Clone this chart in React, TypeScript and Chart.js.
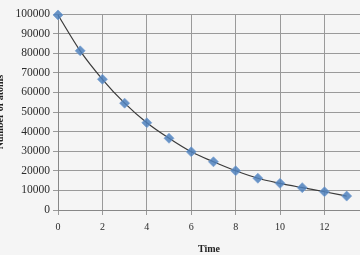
import React, { useEffect, useRef } from "react";
import { Chart, registerables } from "chart.js";

Chart.register(...registerables);

const times = [0, 1, 2, 3, 4, 5, 6, 7, 8, 9, 10, 11, 12, 13];
const atoms = [99500, 81200, 66700, 54500, 44500, 36600, 29700, 24600, 20000, 16200, 13600, 11400, 9300, 7100];
const xTicks = [0, 2, 4, 6, 8, 10, 12];
const yTickStep = 10000;
const xTitle = "Time";
const yTitle = "Number of atoms";

export default function App() {
  const ref = useRef<HTMLCanvasElement | null>(null);
  useEffect(() => {
    document.body.style.margin = "0";
    document.body.style.background = "#f5f5f5";
    const ctx = ref.current!.getContext("2d")!;
    const chart = new Chart(ctx, {
      type: "line",
      data: {
        datasets: [
          {
            data: times.map((t, i) => ({ x: t, y: atoms[i] })),
            borderColor: "#3a3a3a",
            borderWidth: 1.2,
            tension: 0.4,
            cubicInterpolationMode: "monotone",
            pointStyle: "rectRot",
            pointRadius: 5,
            pointBackgroundColor: "rgba(79,129,189,0.85)",
            pointBorderColor: "rgba(120,160,210,0.7)",
            pointBorderWidth: 1,
            fill: false,
            clip: false,
          },
        ],
      },
      options: {
        animation: false,
        responsive: false,
        maintainAspectRatio: false,
        layout: { padding: { top: 14, right: 0, bottom: 0, left: 0 } },
        plugins: { legend: { display: false }, tooltip: { enabled: false } },
        scales: {
          x: {
            type: "linear",
            min: 0,
            max: 13.6,
            afterBuildTicks: (s: any) => {
              s.ticks = xTicks.map((v) => ({ value: v }));
            },
            afterFit: (s: any) => {
              s.height = 45;
            },
            grid: { color: "#9a9a9a", lineWidth: 1, tickLength: 5, drawOnChartArea: true },
            border: { color: "#888", width: 1 },
            ticks: {
              color: "#2a2a2a",
              padding: 6,
              callback: (v: any) => String(v),
              font: { family: "'Liberation Serif', 'DejaVu Serif', serif", size: 10 },
            },
            title: {
              display: true,
              text: xTitle,
              color: "#222",
              padding: { top: 0, bottom: 0 },
              font: { family: "'Liberation Serif', serif", size: 10, weight: "bold" },
            },
          },
          y: {
            min: 0,
            max: 100000,
            ticks: {
              stepSize: yTickStep,
              color: "#2a2a2a",
              padding: 3,
              callback: (v: any) => String(v),
              font: { family: "'Liberation Serif', 'DejaVu Serif', serif", size: 11.5 },
            },
            afterFit: (s: any) => {
              s.width = 64;
            },
            grid: { color: "#9a9a9a", lineWidth: 1, tickLength: 5 },
            border: { color: "#888", width: 1 },
            title: {
              display: true,
              text: yTitle,
              color: "#222",
              padding: { top: 0, bottom: 0 },
              font: { family: "'Liberation Serif', serif", size: 10, weight: "bold" },
            },
          },
        },
      },
    });
    return () => chart.destroy();
  }, []);
  return (
    <div style={{ position: "absolute", left: 0, top: 0, width: 360, height: 255, overflow: "hidden", background: "#f5f5f5" }}>
      <canvas ref={ref} width={372} height={255} style={{ position: "absolute", left: -6, top: 0 }} />
    </div>
  );
}
